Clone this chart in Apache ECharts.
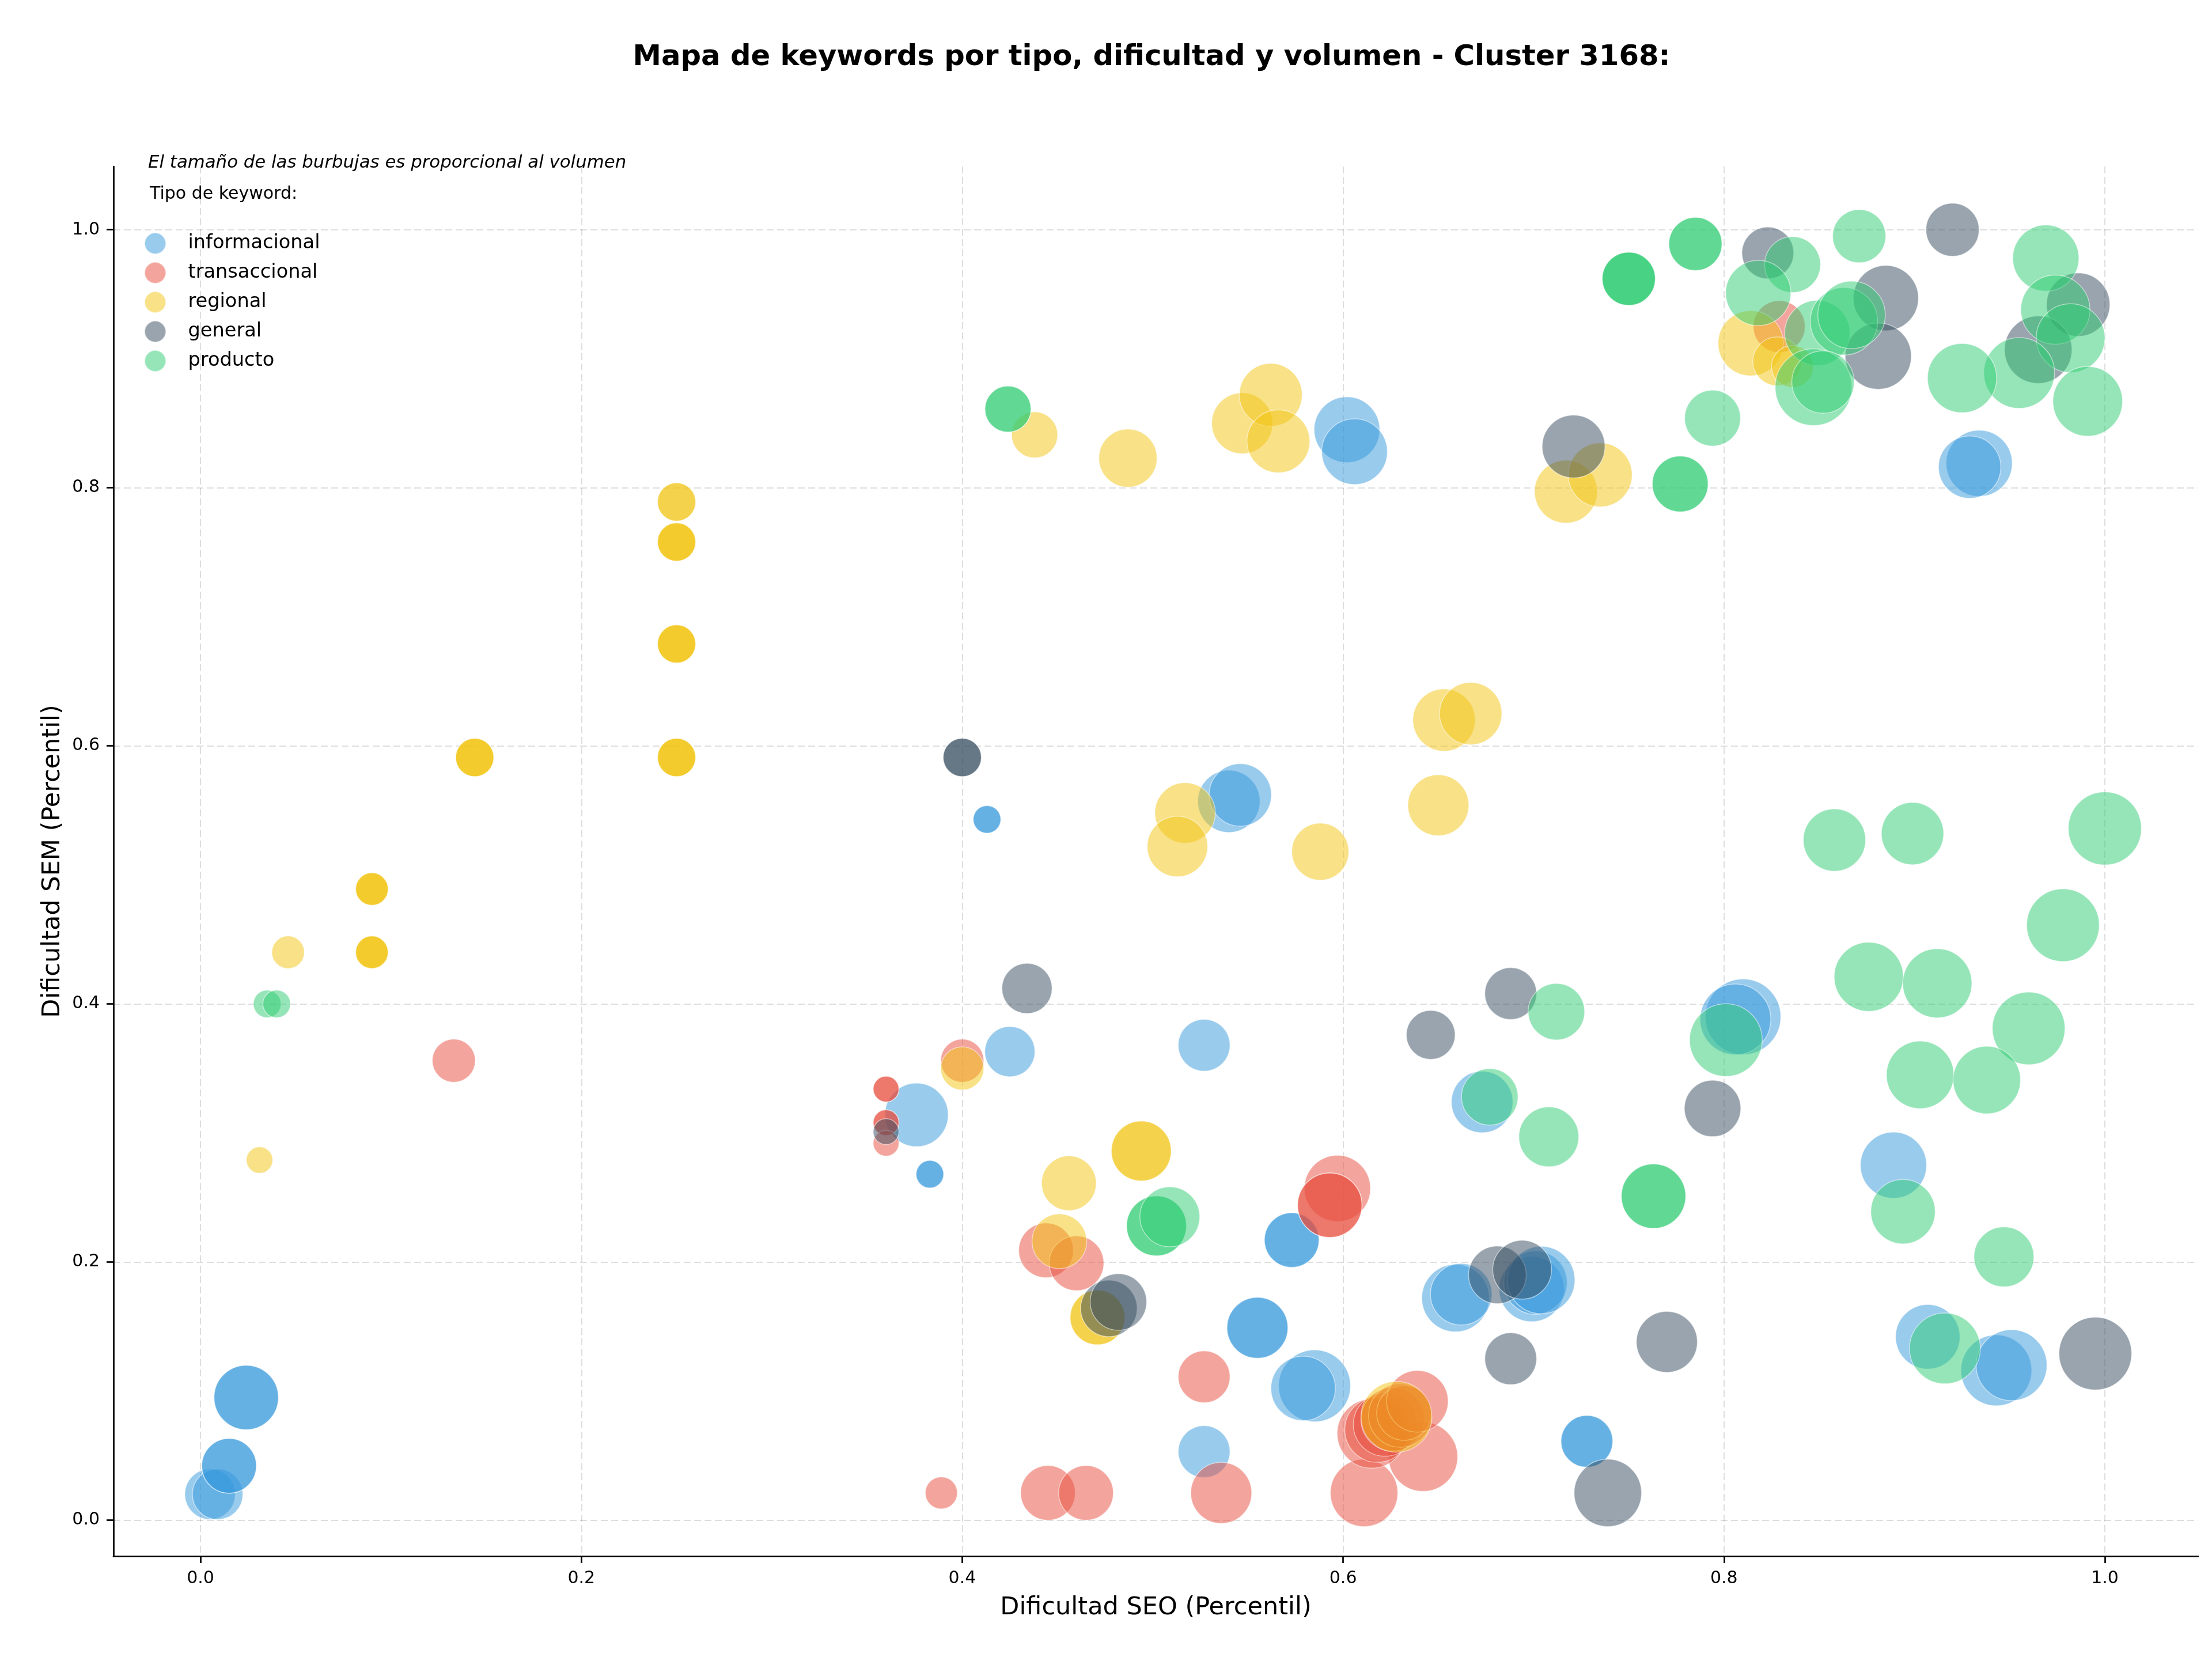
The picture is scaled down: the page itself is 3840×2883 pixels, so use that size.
<!DOCTYPE HTML>
<html>
<head>
<meta http-equiv="Content-type" content="text/html; charset=UTF-8" />
<script type="text/javascript" src="https://cdn.jsdelivr.net/npm/echarts@6/dist/echarts.min.js"></script>
<style>
  html, body { margin: 0; padding: 0; background: #fff; }
  #chart { width: 3840px; height: 2883px; }
</style>
</head>
<body>
<div id="chart"></div>
<script>
// tipos de keyword y colores
var tipos = ['informacional', 'transaccional', 'regional', 'general', 'producto'];
var colores = ['#3498db', '#e74c3c', '#f1c40f', '#34495e', '#2ecc71'];

// [dificultad SEO, dificultad SEM, volumen]
var informacional = [
  [0.005,0.020,77],[0.009,0.020,77],
  [0.015,0.042,90],[0.015,0.042,90],
  [0.024,0.095,125],[0.024,0.095,125],
  [0.376,0.314,121],
  [0.383,0.268,23],[0.383,0.268,23],
  [0.413,0.543,23],[0.413,0.543,23],
  [0.425,0.363,76],
  [0.527,0.368,81],
  [0.540,0.557,117],[0.546,0.562,117],
  [0.602,0.845,130],[0.606,0.828,130],
  [0.573,0.217,90],[0.573,0.217,90],
  [0.555,0.149,112],[0.555,0.149,112],
  [0.585,0.104,156],[0.579,0.102,125],
  [0.527,0.053,81],
  [0.659,0.172,137],[0.662,0.175,114],
  [0.699,0.179,128],[0.701,0.184,121],[0.704,0.186,137],
  [0.673,0.324,114],
  [0.728,0.061,81],[0.728,0.061,81],
  [0.810,0.390,172],[0.806,0.388,151],
  [0.889,0.275,132],
  [0.907,0.142,125],
  [0.943,0.116,151],[0.951,0.120,151],
  [0.934,0.819,132],[0.929,0.816,117]
];
var transaccional = [
  [0.133,0.356,56],
  [0.360,0.334,20],[0.360,0.334,20],
  [0.360,0.308,20],[0.360,0.308,20],
  [0.360,0.292,20],
  [0.389,0.021,31],
  [0.400,0.356,56],
  [0.444,0.209,90],[0.460,0.199,90],
  [0.445,0.021,90],[0.465,0.021,90],
  [0.527,0.111,81],
  [0.536,0.021,112],
  [0.611,0.021,137],
  [0.642,0.049,144],
  [0.597,0.257,132],[0.593,0.244,125],[0.593,0.244,125],
  [0.615,0.067,144],[0.618,0.070,128],[0.622,0.074,121],[0.626,0.078,121],
  [0.630,0.081,121],[0.632,0.083,90],[0.639,0.092,114],
  [0.829,0.925,81]
];
var regional = [
  [0.031,0.279,21],
  [0.046,0.440,32],
  [0.090,0.489,32],[0.090,0.489,32],[0.090,0.489,32],
  [0.090,0.440,32],[0.090,0.440,32],[0.090,0.440,32],
  [0.144,0.591,44],[0.144,0.591,44],[0.144,0.591,44],
  [0.250,0.789,44],[0.250,0.789,44],
  [0.250,0.758,44],[0.250,0.758,44],[0.250,0.758,44],
  [0.250,0.679,44],[0.250,0.679,44],[0.250,0.679,44],
  [0.250,0.591,44],[0.250,0.591,44],[0.250,0.591,44],
  [0.400,0.350,56],
  [0.438,0.841,64],
  [0.487,0.823,102],
  [0.547,0.850,112],[0.562,0.872,119],[0.566,0.836,119],
  [0.517,0.548,110],[0.513,0.522,110],
  [0.588,0.518,98],
  [0.653,0.620,117],[0.667,0.625,117],
  [0.650,0.554,112],
  [0.494,0.286,108],[0.494,0.286,108],
  [0.456,0.261,90],
  [0.451,0.216,90],
  [0.471,0.157,90],[0.471,0.157,90],
  [0.628,0.080,151],
  [0.814,0.912,128],[0.828,0.898,72],[0.836,0.894,53],
  [0.717,0.797,119],[0.735,0.810,123]
];
var general = [
  [0.360,0.301,20],
  [0.400,0.591,44],[0.400,0.591,44],
  [0.434,0.412,76],
  [0.477,0.164,96],[0.482,0.169,96],
  [0.646,0.376,72],
  [0.688,0.408,81],
  [0.681,0.190,100],[0.694,0.194,104],
  [0.688,0.125,81],
  [0.739,0.021,137],
  [0.770,0.138,112],
  [0.794,0.319,96],
  [0.721,0.832,119],
  [0.823,0.982,81],[0.920,1.000,85],[0.885,0.947,128],[0.881,0.902,132],
  [0.986,0.942,121],[0.965,0.907,137],
  [0.995,0.129,159]
];
var producto = [
  [0.035,0.400,23],[0.040,0.400,23],
  [0.424,0.861,64],[0.424,0.861,64],
  [0.502,0.228,108],[0.502,0.228,108],[0.509,0.235,108],
  [0.677,0.328,96],
  [0.712,0.394,96],
  [0.708,0.297,108],
  [0.763,0.251,125],[0.763,0.251,125],
  [0.801,0.372,159],
  [0.777,0.803,94],[0.777,0.803,94],
  [0.794,0.854,94],
  [0.750,0.962,85],[0.750,0.962,85],[0.750,0.962,85],
  [0.785,0.989,85],[0.785,0.989,85],
  [0.836,0.973,94],[0.871,0.995,85],[0.818,0.951,128],
  [0.849,0.920,128],[0.863,0.929,137],[0.867,0.934,137],[0.847,0.878,177],[0.852,0.882,117],
  [0.969,0.978,132],[0.974,0.938,144],[0.982,0.916,142],[0.955,0.889,151],[0.925,0.885,144],[0.991,0.867,146],
  [0.858,0.527,117],[0.899,0.532,117],[1.000,0.536,161],
  [0.978,0.461,159],[0.876,0.421,144],[0.912,0.416,144],[0.960,0.381,159],[0.903,0.345,137],[0.938,0.341,137],
  [0.894,0.239,125],[0.947,0.204,108],
  [0.916,0.133,151]
];
var ticks = [0, 0.2, 0.4, 0.6, 0.8, 1.0];

var datos = [informacional, transaccional, regional, general, producto];
var fuente = 'DejaVu Sans';

var series = tipos.map(function (t, i) {
  return {
    name: t,
    type: 'scatter',
    data: datos[i],
    symbol: 'circle',
    symbolSize: function (v) { return Math.sqrt(v[2]) * 10; },
    itemStyle: { color: colores[i], opacity: 0.5, borderColor: '#fff', borderWidth: 1.5 },
    emphasis: { disabled: true }
  };
});

var ejeComun = {
  type: 'value',
  axisLine: { show: true, onZero: false, lineStyle: { color: '#000', width: 2.7 } },
  axisTick: { show: true, length: 12, lineStyle: { color: '#000', width: 2.7 }, customValues: ticks },
  axisLabel: { fontFamily: fuente, fontSize: 30, color: '#000', margin: 24, customValues: ticks,
    formatter: function (v) { return v.toFixed(1); } },
  splitLine: { show: true, lineStyle: { color: 'rgba(0,0,0,0.13)', width: 2, type: [12, 6] } },
  nameLocation: 'middle',
  nameTextStyle: { fontFamily: fuente, fontSize: 43, color: '#000' }
};

var option = {
  backgroundColor: '#fff',
  animation: false,
  grid: { left: 197, right: 24, top: 289, bottom: 182 },
  xAxis: Object.assign({}, ejeComun, { min: -0.0457, max: 1.049, name: 'Dificultad SEO (Percentil)', nameGap: 68 }),
  yAxis: Object.assign({}, ejeComun, { min: -0.028, max: 1.049, name: 'Dificultad SEM (Percentil)', nameGap: 84 }),
  legend: {
    orient: 'vertical', left: 245, top: 398,
    itemWidth: 104, itemHeight: 37, itemGap: 12,
    data: tipos.map(function (t) { return { name: t, icon: 'circle' }; }),
    textStyle: { fontFamily: fuente, fontSize: 33.6, color: '#000' }
  },
  graphic: [
    { type: 'text', x: 1999, y: 100, style: { text: 'Mapa de keywords por tipo, dificultad y volumen - Cluster 3168:',
      font: 'bold 49.7px "DejaVu Sans"', fill: '#000', align: 'center', verticalAlign: 'middle' } },
    { type: 'text', x: 257, y: 283, style: { text: 'El tamaño de las burbujas es proporcional al volumen',
      font: 'italic 30.8px "DejaVu Sans"', fill: '#000', verticalAlign: 'middle' } },
    { type: 'text', x: 260, y: 337, style: { text: 'Tipo de keyword:',
      font: '30px "DejaVu Sans"', fill: '#000', verticalAlign: 'middle' } }
  ],
  series: series
};

var chart = echarts.init(document.getElementById('chart'));
chart.setOption(option);
</script>
</body>
</html>
